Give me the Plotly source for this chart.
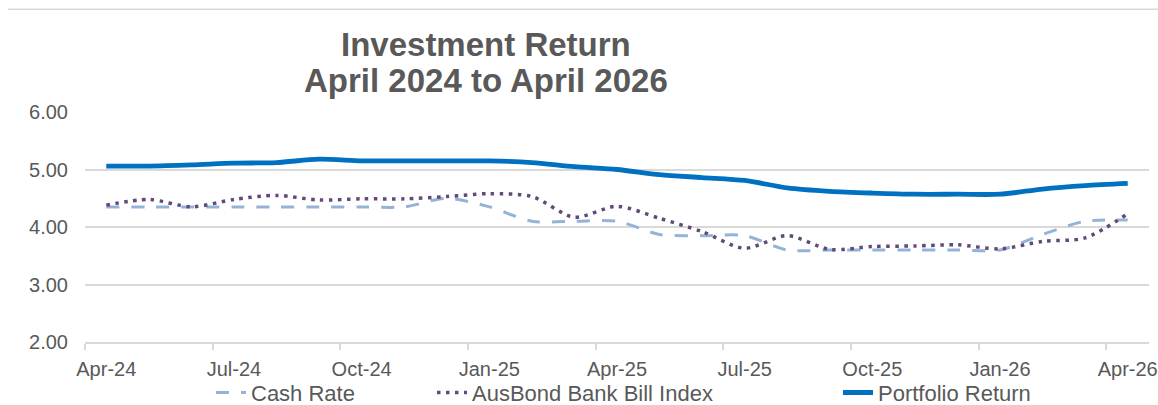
import plotly.graph_objects as go

# Monthly observations, Apr-24 .. Apr-26
months = ["Apr-24", "May-24", "Jun-24", "Jul-24", "Aug-24", "Sep-24", "Oct-24",
          "Nov-24", "Dec-24", "Jan-25", "Feb-25", "Mar-25", "Apr-25", "May-25",
          "Jun-25", "Jul-25", "Aug-25", "Sep-25", "Oct-25", "Nov-25", "Dec-25",
          "Jan-26", "Feb-26", "Mar-26", "Apr-26"]

cash_rate = [4.35, 4.35, 4.35, 4.35, 4.35, 4.35, 4.35, 4.35, 4.50, 4.35,
             4.10, 4.10, 4.10, 3.87, 3.85, 3.85, 3.60, 3.60, 3.60, 3.60,
             3.60, 3.60, 3.87, 4.10, 4.12]

ausbond = [4.38, 4.48, 4.35, 4.48, 4.55, 4.47, 4.49, 4.49, 4.53, 4.58,
           4.53, 4.17, 4.36, 4.15, 3.92, 3.63, 3.85, 3.61, 3.66, 3.67,
           3.69, 3.62, 3.75, 3.81, 4.23]

portfolio = [5.06, 5.06, 5.08, 5.11, 5.12, 5.18, 5.15, 5.15, 5.15, 5.15,
             5.12, 5.05, 5.00, 4.91, 4.86, 4.81, 4.68, 4.62, 4.59, 4.57,
             4.57, 4.57, 4.66, 4.72, 4.76]

tick_labels = months[::3]

x = list(range(len(months)))
tick_pos = x[::3]

FONT = "Liberation Sans, Arial, sans-serif"
GREY = "#595959"
GRID = "#d9d9d9"

# plot area spans pixels 85..1149 horizontally and 112..342 vertically
L, R, T, B = 85, 1149, 112.3, 342.3
W, H = 1158, 405


def px_x(p):
    return (p - L) / (R - L)


def px_y(p):
    return (B - p) / (B - T)


fig = go.Figure()
fig.add_trace(go.Scatter(
    x=x, y=cash_rate, name="Cash Rate", mode="lines", legend="legend",
    line=dict(color="#95B3D7", width=3, dash="13px,12px", shape="spline", smoothing=0.8),
))
fig.add_trace(go.Scatter(
    x=x, y=ausbond, name="AusBond Bank Bill Index", mode="lines", legend="legend2",
    line=dict(color="#604A7B", width=3.5, dash="3.5px,5.5px", shape="spline", smoothing=0.8),
))
fig.add_trace(go.Scatter(
    x=x, y=portfolio, name="Portfolio Return", mode="lines", legend="legend3",
    line=dict(color="#0070C0", width=4.8, shape="spline", smoothing=0.8),
))

legend_font = dict(family=FONT, size=22, color=GREY)


def legend_at(text_left):
    # each legend holds one entry; its text begins ~42px right of the box edge
    return dict(orientation="h", x=px_x(text_left - 42), xanchor="left",
                y=px_y(393), yanchor="middle", font=legend_font,
                bgcolor="rgba(0,0,0,0)")


fig.update_layout(
    width=W, height=H,
    margin=dict(l=L, r=W - R, t=T, b=H - B, autoexpand=False),
    paper_bgcolor="white", plot_bgcolor="white",
    font=dict(family=FONT, size=20, color=GREY),
    showlegend=True,
    legend=legend_at(253),
    legend2=legend_at(474),
    legend3=legend_at(880),
    xaxis=dict(
        range=[-0.5, len(months) - 0.5],
        tickmode="array", tickvals=tick_pos, ticktext=tick_labels,
        ticks="", showgrid=False, zeroline=False,
        showline=True, linecolor=GRID, linewidth=1.5,
        ticklabelstandoff=8,
        minor=dict(tickmode="linear", tick0=-0.5, dtick=3, ticks="outside",
                   ticklen=6, tickcolor=GRID, tickwidth=1.5, showgrid=False),
        tickfont=dict(family=FONT, size=20, color=GREY),
    ),
    yaxis=dict(
        range=[2, 6], tickmode="linear", tick0=2, dtick=1, tickformat=".2f",
        showgrid=True, gridcolor=GRID, gridwidth=1.5, zeroline=False,
        showline=False, ticks="", ticklabelstandoff=16,
        tickfont=dict(family=FONT, size=20, color=GREY),
    ),
    shapes=[dict(type="line", xref="paper", yref="paper",
                 x0=px_x(8), x1=px_x(1158), y0=px_y(9.5), y1=px_y(9.5),
                 line=dict(color=GRID, width=1.5))],
    annotations=[
        dict(text="<b>Investment Return</b>", xref="paper", yref="paper",
             x=px_x(486), y=px_y(45), xanchor="center", yanchor="middle",
             showarrow=False, font=dict(family=FONT, size=33, color=GREY)),
        dict(text="<b>April 2024 to April 2026</b>", xref="paper", yref="paper",
             x=px_x(486), y=px_y(81), xanchor="center", yanchor="middle",
             showarrow=False, font=dict(family=FONT, size=33, color=GREY)),
    ],
)

fig.write_html("out.html")
